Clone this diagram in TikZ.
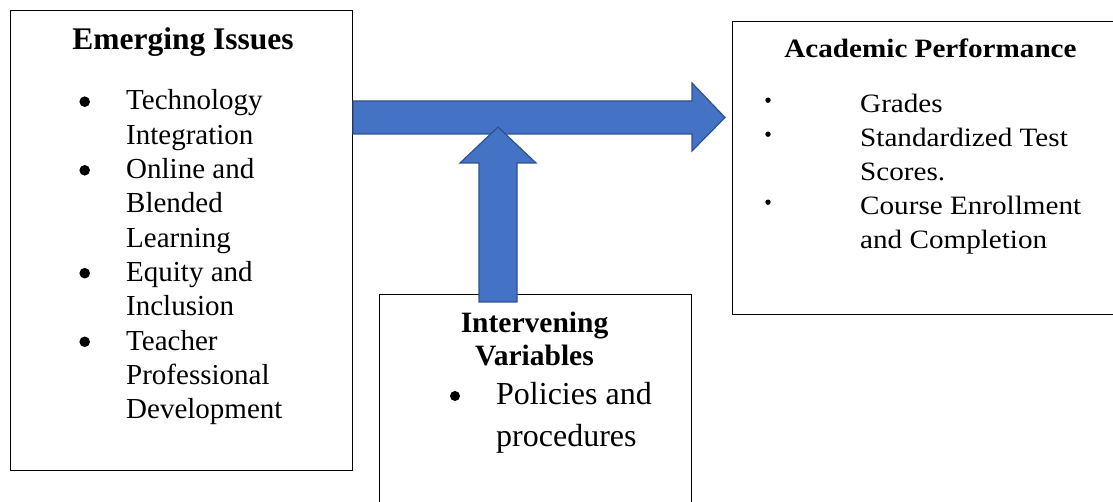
\documentclass[tikz,border=0pt]{standalone}
\usepackage{fontspec}
\setmainfont{Liberation Serif}
\newfontfamily\widefont[FakeStretch=1.1]{Liberation Serif}
\definecolor{arrowfill}{HTML}{4472C4}
\definecolor{arrowline}{HTML}{2F528F}
\tikzset{
    box/.style = {draw, line width=1pt, inner sep=0pt, anchor=north west},
    itemtext/.style = {anchor=base west, inner sep=0pt},
    heading/.style = {anchor=base, inner sep=0pt},
    blockarrow/.style = {fill=arrowfill, draw=arrowline, line width=1.2pt, line join=miter}
}
\begin{document}
\begin{tikzpicture}[x=1pt,y=-1pt]
    \clip (0,0) rectangle (1113,502);
    \fill[white] (0,0) rectangle (1113,502);
    % boxes
    \node[box, minimum width=342pt, minimum height=460pt] (issues) at (10,10) {};
    \node[box, minimum width=400pt, minimum height=293pt] (performance) at (732,21) {};
    \node[box, minimum width=312pt, minimum height=230pt] (intervening) at (378.5,294) {};
    % left box
    \node[heading, font=\bfseries\fontsize{31.5}{36}\selectfont] (issuestitle) at (183,50) {Emerging Issues};
    \foreach \y/\t in {110/Technology, 144.3/Integration, 178.6/Online and, 212.9/Blended,
        247.2/Learning, 281.5/Equity and, 315.8/Inclusion, 350.1/Teacher,
        384.4/Professional, 418.7/Development}
        \node[itemtext, font=\fontsize{29}{34}\selectfont] at (126,\y) {\t};
    \foreach \y in {110, 178.6, 281.5, 350.1}
        \fill (84.7,\y-8.3) circle (5.3pt);
    % right box
    \node[heading, font=\widefont\bfseries\fontsize{26.5}{30}\selectfont] (perftitle) at (930.5,58) {Academic Performance};
    \foreach \y/\t in {113/Grades, 147/Standardized Test, 181/Scores., 215/Course Enrollment, 249/and Completion}
        \node[itemtext, font=\widefont\fontsize{26.5}{30}\selectfont] at (860,\y) {\t};
    \foreach \y in {113, 147, 215}
        \fill (768,\y-12.8) circle (2.7pt);
    % middle box
    \node[heading, font=\bfseries\fontsize{29.5}{34}\selectfont] (intertitle) at (534.5,333) {Intervening};
    \node[heading, font=\bfseries\fontsize{29.5}{34}\selectfont] (intertitleb) at (534.5,366) {Variables};
    \node[itemtext, font=\fontsize{32}{38}\selectfont] (policies) at (496,404) {Policies and};
    \node[itemtext, font=\fontsize{32}{38}\selectfont] (procedures) at (496,446) {procedures};
    \fill (455,396) circle (5pt);
    % arrows
    \draw[blockarrow] (issues.east |- 0,101) -- (692,101) -- (692,83) -- (725,117.5) -- (692,151) -- (692,134) -- (issues.east |- 0,134) -- cycle;
    \draw[blockarrow] (479,302) -- (479,163) -- (460,163) -- (498,127) -- (536,163) -- (517,163) -- (517,302) -- cycle;
\end{tikzpicture}
\end{document}
